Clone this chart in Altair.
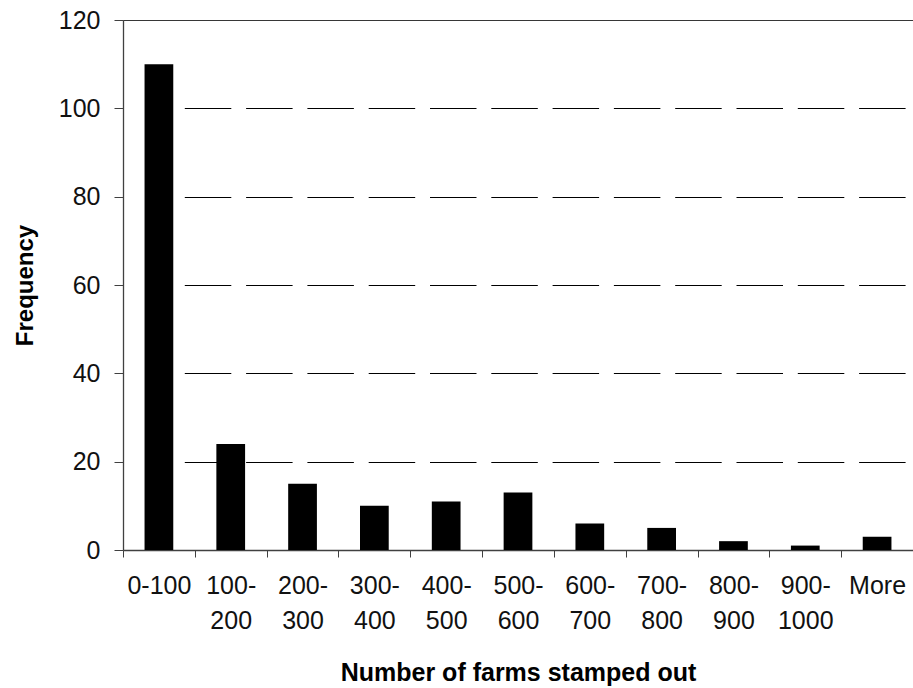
import altair as alt
import pandas as pd

categories = ["0-100", "100-200", "200-300", "300-400", "400-500", "500-600",
              "600-700", "700-800", "800-900", "900-1000", "More"]
frequency = [110, 24, 15, 10, 11, 13, 6, 5, 2, 1, 3]
y_ticks = [0, 20, 40, 60, 80, 100, 120]

df = pd.DataFrame({"bin": categories, "freq": frequency})

grid_dash = [0, 61.3] + [46.5, 14.8] * 13

label_expr = (
    "indexof(datum.label, '-') > 0 && datum.label != '0-100' "
    "? [split(datum.label, '-')[0] + '-', split(datum.label, '-')[1]] : datum.label"
)

chart = alt.Chart(df).mark_bar(
    color="#000000", width=alt.RelativeBandSize(0.4)
).encode(
    x=alt.X(
        "bin:N",
        sort=categories,
        scale=alt.Scale(paddingInner=0, paddingOuter=0),
        axis=alt.Axis(
            title="Number of farms stamped out",
            labelAngle=0,
            labelExpr=label_expr,
            labelLineHeight=35,
            labelFont="Liberation Sans",
            labelFontSize=25,
            labelColor="#111111",
            labelPadding=16,
            tickBand="extent",
            tickSize=7,
            tickColor="#404040",
            domainColor="#404040",
            domainWidth=1.3,
            titleFont="Liberation Sans",
            titleFontSize=25,
            titleFontWeight="bold",
            titleColor="#000000",
            titleY=110,
            grid=False,
        ),
    ),
    y=alt.Y(
        "freq:Q",
        scale=alt.Scale(domain=[0, 120], nice=False),
        axis=alt.Axis(
            title="Frequency",
            values=y_ticks,
            labelFont="Liberation Sans",
            labelFontSize=25,
            labelColor="#111111",
            labelPadding=14,
            tickSize=9,
            tickColor="#404040",
            domainColor="#404040",
            domainWidth=1.3,
            grid=True,
            gridColor="#000000",
            gridWidth=1,
            gridDash={"condition": {"test": "datum.value === 120", "value": [1, 0]},
                      "value": grid_dash},
            titleFont="Liberation Sans",
            titleFontSize=24,
            titleFontWeight="bold",
            titleColor="#000000",
            titleX=-86,
        ),
    ),
).properties(
    width=790,
    height=530,
    autosize=alt.AutoSizeParams(type="none"),
    padding={"left": 123, "top": 20, "right": 0, "bottom": 138},
).configure_view(stroke=None).configure(background="white")

chart.save("out.html", embed_options={"renderer": "svg", "actions": False})
